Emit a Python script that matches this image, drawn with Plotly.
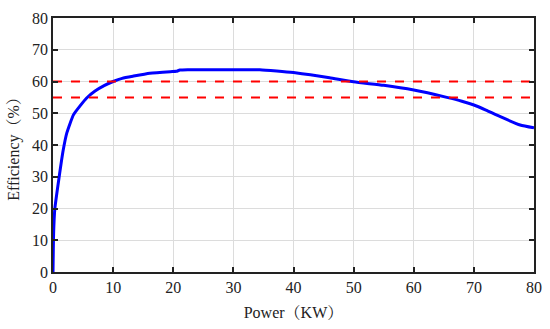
import plotly.graph_objects as go

power = [0, 0.1, 0.3, 1.0, 1.7, 2.3, 3.4, 4.5, 5.6, 7.0, 8.5, 10.0, 11.5, 13.4, 16.1, 19.5, 20.5, 21.1, 22.5, 25, 30, 34.4, 37.2, 40, 42.8, 46, 50, 55, 60, 65.5, 68, 70, 72, 74.4, 77.7, 80]
efficiency = [0, 12, 19.8, 29.6, 38.4, 43.8, 49.5, 52.3, 54.8, 57.0, 58.7, 60.0, 61.0, 61.7, 62.6, 63.1, 63.2, 63.6, 63.7, 63.7, 63.7, 63.7, 63.3, 62.8, 62.1, 61.2, 59.9, 58.8, 57.3, 55.0, 53.8, 52.6, 51.0, 48.9, 46.3, 45.4]
ref_levels = [60, 55]

FONT = "Liberation Serif, Noto Serif CJK SC, Noto Sans CJK SC, serif"

fig = go.Figure()
fig.add_trace(go.Scatter(x=power, y=efficiency, mode="lines", line=dict(color="#0000ff", width=3, shape="spline", smoothing=0.5), showlegend=False))
for lv in ref_levels:
    fig.add_trace(go.Scatter(x=[0, 80], y=[lv, lv], mode="lines", line=dict(color="#ff0000", width=2, dash="dash"), showlegend=False))

axis_common = dict(showline=True, linecolor="#222", linewidth=1.5, mirror="ticks", ticks="inside", ticklen=5, tickwidth=1.5, tickcolor="#222",
                   showgrid=True, gridcolor="#dcdcdc", gridwidth=1, zeroline=False, automargin=False,
                   tickfont=dict(family=FONT, size=16, color="#222"))
fig.update_xaxes(range=[0, 80], dtick=10, title=dict(text="Power（KW）", font=dict(family=FONT, size=16, color="#222"), standoff=12), **axis_common)
fig.update_yaxes(range=[0, 80], dtick=10, title=dict(text="Efficiency（%）", font=dict(family=FONT, size=16, color="#222"), standoff=8), **axis_common)
fig.update_layout(width=550, height=329, margin=dict(l=53, r=16, t=18, b=57), plot_bgcolor="white", paper_bgcolor="white")
fig.write_html("out.html", config={"displayModeBar": False},
               post_script="document.body.style.margin='0';document.body.style.overflow='hidden';")
